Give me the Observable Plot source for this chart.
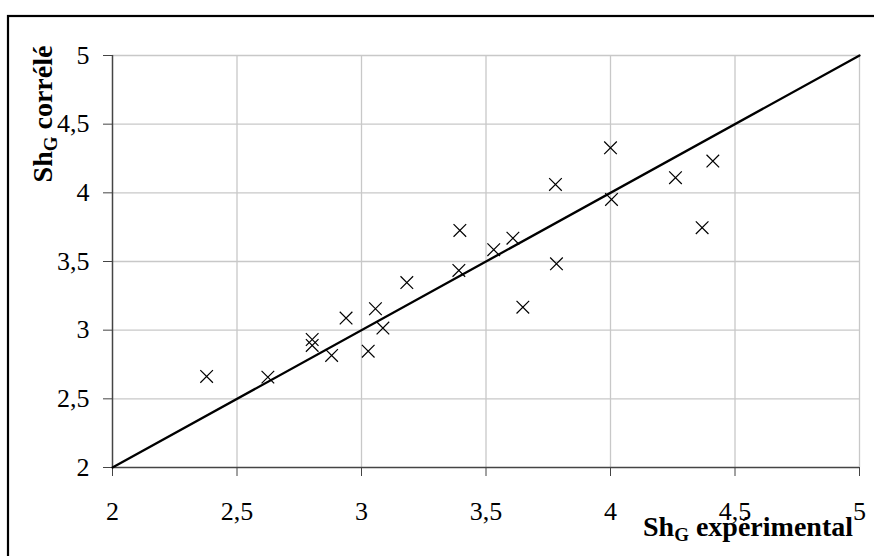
<!DOCTYPE html>
<html>
<head>
<meta charset="utf-8">
<script src="https://cdn.jsdelivr.net/npm/d3@7"></script>
<script src="https://cdn.jsdelivr.net/npm/@observablehq/plot@0.6"></script>
<style>
  html, body { margin: 0; padding: 0; background: #fff; }
  #chart { position: relative; width: 874px; height: 556px; overflow: hidden; }
  #chart svg, #chart svg text { font-family: "Liberation Serif", "Times New Roman", serif; }
</style>
</head>
<body>
<div id="chart"></div>
<script>
// Experimental Sh_G values (x) and correlated Sh_G values (y)
const shExperimental = [2.378, 2.624, 2.802, 2.802, 2.880, 2.938, 3.027, 3.056, 3.086, 3.182,
                        3.395, 3.391, 3.531, 3.608, 3.648, 3.779, 3.783, 4.000, 4.004, 4.261, 4.368, 4.411];
const shCorrele     = [2.663, 2.658, 2.932, 2.889, 2.816, 3.088, 2.847, 3.156, 3.015, 3.347,
                       3.726, 3.435, 3.586, 3.670, 3.167, 4.061, 3.483, 4.328, 3.952, 4.110, 3.746, 4.231];
const diagonal = [2, 5];
const ticks = [2, 2.5, 3, 3.5, 4, 4.5, 5];
const xTitle = ["Sh", "G", " expérimental"];
const yTitle = ["Sh", "G", " corrélé"];

const points = shExperimental.map((x, i) => ({x, y: shCorrele[i]}));
const fmt = d => String(d).replace(".", ",");
const serif = "Liberation Serif, Times New Roman, serif";

const plot = Plot.plot({
  width: 874,
  height: 556,
  marginLeft: 112,
  marginRight: 15,
  marginTop: 55,
  marginBottom: 89,
  style: {fontFamily: serif, fontSize: "26px", background: "#fff", color: "#000"},
  x: {domain: [2, 5]},
  y: {domain: [2, 5]},
  marks: [
    Plot.ruleX(ticks.slice(1), {stroke: "#c8c8c8", strokeWidth: 1.3, strokeOpacity: 1}),
    Plot.ruleY(ticks.slice(1), {stroke: "#c8c8c8", strokeWidth: 1.3, strokeOpacity: 1}),
    Plot.ruleX([2], {stroke: "#444", strokeWidth: 1.5}),
    Plot.ruleY([2], {stroke: "#444", strokeWidth: 1.5}),
    Plot.axisX({ticks, tickFormat: fmt, tickSize: 9, tickPadding: 25, stroke: "#444",
                fontSize: 26, fontFamily: serif, fill: "#000", label: null}),
    Plot.axisY({ticks, tickFormat: fmt, tickSize: 9, tickPadding: 14, stroke: "#444",
                fontSize: 26, fontFamily: serif, fill: "#000", label: null}),
    Plot.line(diagonal.map(v => ({x: v, y: v})), {x: "x", y: "y", stroke: "#000", strokeWidth: 2.3}),
    Plot.dot(points, {x: "x", y: "y", symbol: "times", r: 5.8, stroke: "#000", strokeWidth: 1.2})
  ]
});

document.getElementById("chart").appendChild(plot);

const svg = d3.select(plot);
svg.selectAll("text").attr("font-family", serif).attr("font-size", 26);
// outer border
svg.append("rect")
  .attr("x", 8).attr("y", 16).attr("width", 880).attr("height", 560)
  .attr("fill", "none").attr("stroke", "#000").attr("stroke-width", 2.2);

function addTitle(parts, attrs) {
  const t = svg.append("text")
    .attr("font-family", serif)
    .attr("font-weight", "bold")
    .attr("font-size", 28)
    .attr("fill", "#000");
  Object.entries(attrs).forEach(([k, v]) => t.attr(k, v));
  t.append("tspan").text(parts[0]);
  t.append("tspan").attr("font-size", 19).attr("dy", 5).text(parts[1]);
  t.append("tspan").attr("dy", -5).text(parts[2]);
  return t;
}
addTitle(xTitle, {x: 853, y: 536, "text-anchor": "end"});
addTitle(yTitle, {"text-anchor": "middle", transform: "translate(52,114) rotate(-90)"});
</script>
</body>
</html>
